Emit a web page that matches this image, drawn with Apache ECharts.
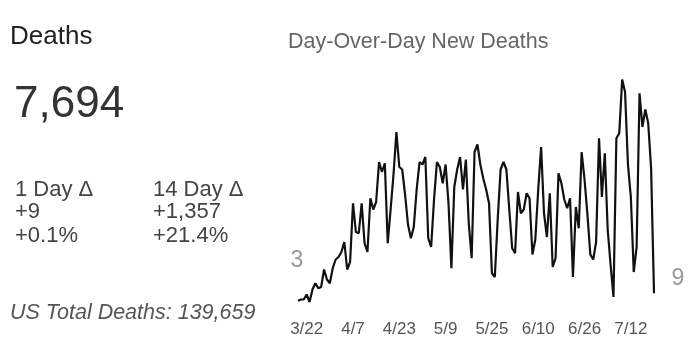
<!DOCTYPE html>
<html>
<head>
<meta charset="utf-8">
<script src="https://cdn.jsdelivr.net/npm/echarts@6/dist/echarts.min.js"></script>
<style>
html,body{margin:0;padding:0;background:#fff;}
#chart{width:700px;height:363px;}
</style>
</head>
<body>
<div id="chart"></div>
<script>
// ---- data ----
var startDate = [2020, 2, 19]; // 3/19
var dayCount = 124;
var dates = [];
for (var i = 0; i < dayCount; i++) {
  var d = new Date(startDate[0], startDate[1], startDate[2] + i);
  dates.push((d.getMonth() + 1) + '/' + d.getDate());
}
var newDeaths = [
  3, 4, 4, 8, 2, 12, 17, 13, 14, 28,
  20, 17, 29, 36, 38, 42, 50, 28, 34, 81,
  58, 57, 81, 49, 42, 85, 76, 82, 114, 106,
  113, 49, 76, 104, 138, 110, 108, 88, 64, 53,
  62, 92, 114, 112, 118, 53, 46, 84, 114, 110,
  97, 112, 81, 29, 94, 108, 118, 92, 116, 65,
  37, 122, 128, 112, 101, 92, 81, 25, 22, 68,
  108, 114, 108, 76, 45, 41, 90, 73, 76, 89,
  85, 40, 52, 92, 126, 73, 54, 89, 30, 37,
  105, 97, 84, 77, 85, 22, 78, 61, 122, 100,
  72, 40, 36, 50, 133, 86, 121, 60, 32, 6,
  133, 137, 180, 170, 112, 86, 26, 46, 169, 142,
  156, 145, 109, 9
];
var tickStartIndex = 3;   // 3/22
var tickStep = 16;
var titleText = 'Day-Over-Day New Deaths';
var headerText = 'Deaths';
var totalText = '7,694';
var oneDayLabel = '1 Day \u0394', oneDayAbs = '+9', oneDayPct = '+0.1%';
var fourteenDayLabel = '14 Day \u0394', fourteenDayAbs = '+1,357', fourteenDayPct = '+21.4%';
var usTotalText = 'US Total Deaths: 139,659';

// ---- chart ----
var FONT = '"Liberation Sans", Arial, sans-serif';
var chart = echarts.init(document.getElementById('chart'), null, {renderer: 'canvas'});

var lastIdx = newDeaths.length - 1;

function txt(x, y, text, size, color, extra) {
  var st = {text: text, fontSize: size, fill: color, fontFamily: FONT,
            verticalAlign: 'middle', align: 'left'};
  if (extra) for (var k in extra) st[k] = extra[k];
  return {type: 'text', x: x, y: y, style: st, silent: true};
}

chart.setOption({
  backgroundColor: '#ffffff',
  animation: false,
  grid: {left: 298, right: 46, top: 67, bottom: 58.5},
  xAxis: {
    type: 'category',
    data: dates,
    boundaryGap: false,
    axisLine: {show: false},
    axisTick: {show: false},
    splitLine: {show: false},
    axisLabel: {
      interval: function (idx) { return idx >= tickStartIndex && (idx - tickStartIndex) % tickStep === 0; },
      color: '#555',
      fontSize: 17,
      fontFamily: FONT,
      margin: 16
    }
  },
  yAxis: {
    type: 'value',
    min: 0,
    max: 190,
    show: false,
    splitLine: {show: false}
  },
  series: [{
    type: 'line',
    data: newDeaths,
    showSymbol: false,
    symbol: 'none',
    lineStyle: {color: '#111', width: 2.2},
    z: 3,
    markPoint: {
      symbol: 'circle',
      symbolSize: 1,
      silent: true,
      itemStyle: {color: 'rgba(0,0,0,0)'},
      label: {show: true, color: '#999', fontSize: 23, fontFamily: FONT,
              position: 'inside', formatter: function (p) { return String(p.value); }},
      data: [
        {coord: [0, newDeaths[0]], value: newDeaths[0], label: {offset: [-1, -40]}},
        {coord: [lastIdx, newDeaths[lastIdx]], value: newDeaths[lastIdx], label: {offset: [24, -15]}}
      ]
    }
  }],
  graphic: [
    txt(10, 37, headerText, 26, '#222'),
    txt(14, 105, totalText, 44, '#333'),
    txt(15, 190, oneDayLabel, 22, '#444'),
    txt(15, 212, oneDayAbs, 22, '#444'),
    txt(15, 236, oneDayPct, 22, '#444'),
    txt(153, 190, fourteenDayLabel, 22, '#444'),
    txt(153, 212, fourteenDayAbs, 22, '#444'),
    txt(153, 236, fourteenDayPct, 22, '#444'),
    txt(10, 313, usTotalText, 21.5, '#555', {fontStyle: 'italic'}),
    txt(288, 42, titleText, 21.5, '#666')
  ]
});
</script>
</body>
</html>
